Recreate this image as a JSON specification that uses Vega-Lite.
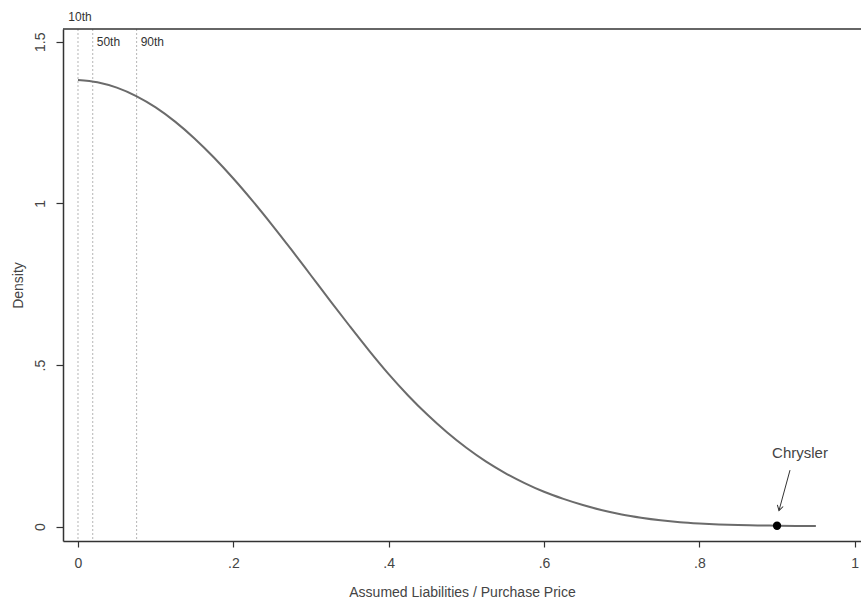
{
  "$schema": "https://vega.github.io/schema/vega-lite/v6.json",
  "width": 798,
  "height": 512,
  "autosize": {"type": "none"},
  "padding": {"left": 63, "top": 29, "right": 0, "bottom": 59},
  "background": "white",
  "config": {
    "view": {"stroke": null},
    "font": "Liberation Sans",
    "axis": {
      "grid": false,
      "domainColor": "#333333",
      "domainWidth": 1.5,
      "tickColor": "#333333",
      "tickWidth": 1.2,
      "labelColor": "#444444",
      "titleColor": "#444444",
      "labelFont": "Liberation Sans",
      "titleFont": "Liberation Sans",
      "labelFontSize": 14,
      "titleFontSize": 14,
      "titleFontWeight": "normal"
    }
  },
  "datasets": {
    "curve": [
      {"x": 0, "density": 1.382},
      {"x": 0.025, "density": 1.375},
      {"x": 0.05, "density": 1.358},
      {"x": 0.075, "density": 1.332},
      {"x": 0.1, "density": 1.297},
      {"x": 0.125, "density": 1.253},
      {"x": 0.15, "density": 1.201},
      {"x": 0.175, "density": 1.142},
      {"x": 0.2, "density": 1.077},
      {"x": 0.225, "density": 1.007},
      {"x": 0.25, "density": 0.933},
      {"x": 0.275, "density": 0.856},
      {"x": 0.3, "density": 0.777},
      {"x": 0.325, "density": 0.698},
      {"x": 0.35, "density": 0.62},
      {"x": 0.375, "density": 0.544},
      {"x": 0.4, "density": 0.472},
      {"x": 0.425, "density": 0.406},
      {"x": 0.45, "density": 0.346},
      {"x": 0.475, "density": 0.292},
      {"x": 0.5, "density": 0.244},
      {"x": 0.525, "density": 0.202},
      {"x": 0.55, "density": 0.166},
      {"x": 0.575, "density": 0.135},
      {"x": 0.6, "density": 0.108},
      {"x": 0.625, "density": 0.086},
      {"x": 0.65, "density": 0.067},
      {"x": 0.675, "density": 0.051},
      {"x": 0.7, "density": 0.038},
      {"x": 0.725, "density": 0.028},
      {"x": 0.75, "density": 0.02},
      {"x": 0.775, "density": 0.014},
      {"x": 0.8, "density": 0.01},
      {"x": 0.825, "density": 0.007},
      {"x": 0.85, "density": 0.005},
      {"x": 0.875, "density": 0.004},
      {"x": 0.9, "density": 0.003},
      {"x": 0.925, "density": 0.0025},
      {"x": 0.95, "density": 0.002}
    ],
    "pct": [
      {"label": "10th", "x": 0, "y": 1.5394},
      {"label": "50th", "x": 0.019, "y": 1.5394},
      {"label": "90th", "x": 0.0755, "y": 1.5394}
    ],
    "chrysler": [
      {"name": "Chrysler", "x": 0.9, "density": 0.003, "tx": 0.9296, "ty": 0.228, "ax": 0.9167, "ay": 0.175, "bx": 0.9025, "by": 0.05}
    ]
  },
  "layer": [
    {
      "data": {"name": "pct"},
      "mark": {"type": "rule", "color": "#b5b5b5", "strokeDash": [2, 2], "strokeWidth": 1},
      "encoding": {
        "x": {
          "field": "x", "type": "quantitative",
          "scale": {"domain": [-0.0193, 1.0081], "nice": false, "zero": false},
          "axis": {
            "values": [0, 0.2, 0.4, 0.6, 0.8, 1],
            "format": "~g",
            "labelExpr": "replace(datum.label, '0.', '.')",
            "title": "Assumed Liabilities / Purchase Price",
            "tickSize": 6,
            "labelPadding": 9,
            "titlePadding": 15,
            "labelFlush": false
          }
        }
      }
    },
    {
      "data": {"name": "pct"},
      "transform": [{"filter": "datum.label == '10th'"}],
      "mark": {"type": "text", "fontSize": 12, "color": "#333333", "font": "Liberation Sans", "align": "center", "baseline": "middle", "dx": 2, "dy": -12},
      "encoding": {
        "x": {"field": "x", "type": "quantitative"},
        "y": {"field": "y", "type": "quantitative"},
        "text": {"field": "label"}
      }
    },
    {
      "data": {"name": "pct"},
      "transform": [{"filter": "datum.label != '10th'"}],
      "mark": {"type": "text", "fontSize": 12, "color": "#333333", "font": "Liberation Sans", "align": "left", "baseline": "middle", "dx": 4, "dy": 13},
      "encoding": {
        "x": {"field": "x", "type": "quantitative"},
        "y": {"field": "y", "type": "quantitative"},
        "text": {"field": "label"}
      }
    },
    {
      "data": {"values": [{"top": 1.5394}]},
      "mark": {"type": "rule", "color": "#333333", "strokeWidth": 1.5},
      "encoding": {"y": {"field": "top", "type": "quantitative"}}
    },
    {
      "data": {"name": "curve"},
      "mark": {"type": "line", "color": "#6b6b6b", "strokeWidth": 2, "interpolate": "monotone"},
      "encoding": {
        "x": {"field": "x", "type": "quantitative"},
        "y": {
          "field": "density", "type": "quantitative",
          "scale": {"domain": [-0.0442, 1.5394], "nice": false, "zero": false},
          "axis": {
            "values": [0, 0.5, 1, 1.5],
            "format": "~g",
            "labelExpr": "replace(datum.label, '0.', '.')",
            "title": "Density",
            "labelAngle": -90,
            "labelAlign": "center",
            "labelBaseline": "bottom",
            "tickSize": 7,
            "labelPadding": 9,
            "titlePadding": 8
          }
        }
      }
    },
    {
      "data": {"name": "chrysler"},
      "mark": {"type": "point", "filled": true, "color": "#000000", "size": 70, "opacity": 1},
      "encoding": {
        "x": {"field": "x", "type": "quantitative"},
        "y": {"field": "density", "type": "quantitative"}
      }
    },
    {
      "data": {"name": "chrysler"},
      "mark": {"type": "rule", "color": "#333333", "strokeWidth": 1},
      "encoding": {
        "x": {"field": "ax", "type": "quantitative"},
        "y": {"field": "ay", "type": "quantitative"},
        "x2": {"field": "bx"},
        "y2": {"field": "by"}
      }
    },
    {
      "data": {"name": "chrysler"},
      "mark": {"type": "point", "shape": "M-0.6,-1L0,0L0.6,-1", "filled": false, "color": "#333333", "strokeWidth": 1, "size": 100, "angle": 15, "opacity": 1},
      "encoding": {
        "x": {"field": "bx", "type": "quantitative"},
        "y": {"field": "by", "type": "quantitative"}
      }
    },
    {
      "data": {"name": "chrysler"},
      "mark": {"type": "text", "fontSize": 15, "color": "#444444", "font": "Liberation Sans", "align": "center", "baseline": "middle"},
      "encoding": {
        "x": {"field": "tx", "type": "quantitative"},
        "y": {"field": "ty", "type": "quantitative"},
        "text": {"field": "name"}
      }
    }
  ]
}
